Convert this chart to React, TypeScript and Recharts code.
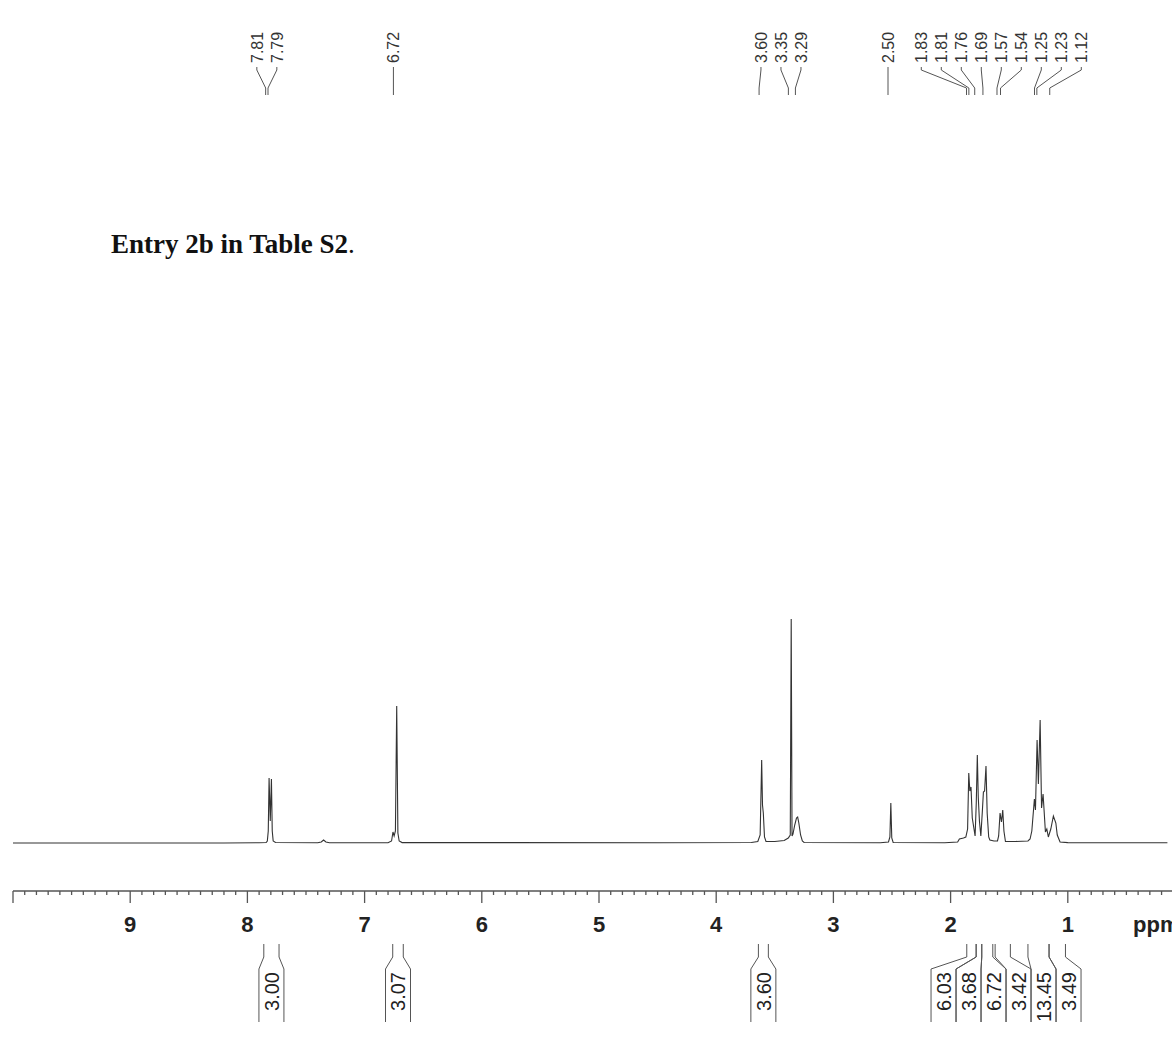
import React from 'react';
import { LineChart, Line, XAxis, YAxis, Customized } from 'recharts';

// ---------------- data (ppm, intensity) ----------------
const BASELINE_LEFT: [number, number][] = [
  [10.0, 0], [8.2, 0], [7.9, 0.3],
];
const AROMATIC_DOUBLET: [number, number][] = [
  [7.84, 0.5], [7.83, 2], [7.822, 12], [7.815, 65], [7.805, 22], [7.795, 64], [7.788, 12], [7.78, 2], [7.76, 0.5],
];
const SMALL_BUMP: [number, number][] = [
  [7.40, 0.3], [7.37, 1], [7.35, 3], [7.33, 1], [7.30, 0.3],
];
const AROMATIC_SINGLET: [number, number][] = [
  [6.80, 0.3], [6.77, 2], [6.758, 11], [6.748, 7], [6.737, 12], [6.726, 137], [6.716, 10], [6.705, 2], [6.68, 0.4],
];
const MID_REGION: [number, number][] = [
  [4.5, 0.3], [3.70, 0.5], [3.645, 1.5], [3.625, 8], [3.612, 83], [3.605, 38], [3.598, 30], [3.588, 6], [3.575, 1.5],
  [3.50, 1.5], [3.42, 2.5], [3.385, 5], [3.368, 8], [3.360, 224], [3.353, 7], [3.345, 9], [3.33, 18], [3.315, 25],
  [3.305, 26], [3.295, 20], [3.28, 8], [3.265, 2], [3.25, 0.5],
  [2.60, 0.3], [2.53, 1], [2.518, 6], [2.510, 40], [2.502, 5], [2.49, 0.5],
];
const ALIPHATIC_REGION: [number, number][] = [
  [2.05, 0.3], [1.94, 1], [1.925, 4], [1.89, 5], [1.87, 6], [1.855, 14], [1.845, 70], [1.836, 52], [1.826, 56],
  [1.815, 25], [1.791, 7], [1.781, 40], [1.772, 88], [1.764, 46], [1.754, 22], [1.742, 7], [1.730, 30], [1.720, 51],
  [1.710, 52], [1.698, 77], [1.688, 30], [1.675, 6], [1.665, 3], [1.63, 2], [1.60, 2], [1.59, 7], [1.578, 30],
  [1.566, 21], [1.555, 33], [1.545, 12], [1.532, 1.5], [1.45, 1.5], [1.34, 2], [1.322, 4], [1.307, 12], [1.285, 44],
  [1.276, 33], [1.262, 103], [1.251, 59], [1.236, 123], [1.224, 35], [1.211, 49], [1.191, 11], [1.179, 14],
  [1.166, 6], [1.145, 14], [1.123, 27], [1.102, 20], [1.09, 8], [1.066, 1], [1.0, 0.4], [0.5, 0.3], [0.15, 0.3],
];

// axis tick labels
const MAJOR_TICK_LABELS = [9, 8, 7, 6, 5, 4, 3, 2, 1];
const AXIS_UNIT = 'ppm';

// peak labels (grouped as printed)
const PEAK_LABEL_GROUPS: number[][] = [
  [7.81, 7.79],
  [6.72],
  [3.60, 3.35, 3.29],
  [2.50],
  [1.83, 1.81, 1.76, 1.69, 1.57, 1.54, 1.25, 1.23, 1.12],
];

// integrals
const INTEGRAL_RANGES: [number, number][] = [
  [7.86, 7.73], [6.76, 6.67], [3.64, 3.555],
  [1.862, 1.782], [1.782, 1.734], [1.734, 1.64], [1.62, 1.49], [1.34, 1.16], [1.16, 1.02],
];
const INTEGRAL_VALUES = ['3.00', '3.07', '3.60', '6.03', '3.68', '6.72', '3.42', '13.45', '3.49'];
const INTEGRAL_GROUPS: number[][] = [[0], [1], [2], [3, 4, 5, 6, 7, 8]];

const TITLE = 'Entry 2b in Table S2';

// ---------------- layout ----------------
const CHART_W = 1200;
const CHART_H = 1042;
const MARGIN = { top: 491, right: 15, bottom: 101, left: 13 };
const X_AXIS_H = 50;
const PPM_DOMAIN: [number, number] = [0, 10];
const INT_DOMAIN: [number, number] = [-48, 352];
const PLOT_W = CHART_W - MARGIN.left - MARGIN.right;

const SANS = "'Liberation Sans', Arial, Helvetica, sans-serif";
const SERIF = "'Liberation Serif', 'Times New Roman', serif";

const spectrum = [
  ...BASELINE_LEFT, ...AROMATIC_DOUBLET, ...SMALL_BUMP, ...AROMATIC_SINGLET, ...MID_REGION, ...ALIPHATIC_REGION,
].map(([ppm, intensity]) => ({ ppm, intensity }));

const tickValues: number[] = [];
for (let i = 0; i <= 100; i++) tickValues.push(i / 10);

const ppmToX = (p: number) =>
  MARGIN.left + ((PPM_DOMAIN[1] - p) / (PPM_DOMAIN[1] - PPM_DOMAIN[0])) * PLOT_W;

const LABEL_SHIFT = -4;
const LABEL_SPACING = 20;
const BOX_W = 25;

const AxisTick = (props: any) => {
  const { x, y, payload } = props;
  const v = Math.round(payload.value * 10) / 10;
  const isMajor = Math.abs(v - Math.round(v)) < 1e-6;
  const len = isMajor ? 12 : 4;
  const showLabel = isMajor && MAJOR_TICK_LABELS.includes(v);
  return (
    <g>
      <line x1={x} x2={x} y1={y} y2={y + len} stroke="#555" strokeWidth={1.3} />
      {showLabel && (
        <text x={x} y={y + 41} textAnchor="middle" fontFamily={SANS} fontWeight="bold" fontSize={22} fill="#222">
          {v}
        </text>
      )}
    </g>
  );
};

const Annotations = () => {
  const items: React.ReactNode[] = [];
  // title
  items.push(
    <text key="title" x={111} y={253} fontFamily={SERIF} fontSize={27} fill="#111">
      <tspan fontWeight="bold">{TITLE}</tspan>
      <tspan>.</tspan>
    </text>
  );
  // unit
  items.push(
    <text key="unit" x={1133} y={932} fontFamily={SANS} fontWeight="bold" fontSize={22} fill="#222">
      {AXIS_UNIT}
    </text>
  );
  // peak labels
  PEAK_LABEL_GROUPS.forEach((group, gi) => {
    const targets = group.map((v) => ppmToX(v) + LABEL_SHIFT);
    const mean = targets.reduce((a, b) => a + b, 0) / targets.length;
    group.forEach((v, i) => {
      const lx = mean + (i - (group.length - 1) / 2) * LABEL_SPACING;
      const tx = targets[i];
      items.push(
        <g key={`pl-${gi}-${i}`}>
          <text
            transform={`translate(${lx},63) rotate(-90)`}
            dy="0.36em"
            textAnchor="start"
            fontFamily={SANS}
            fontSize={16}
            fill="#333"
          >
            {v.toFixed(2)}
          </text>
          <polyline points={`${lx},67 ${lx},70 ${tx},88 ${tx},95`} fill="none" stroke="#555" strokeWidth={1} />
        </g>
      );
    });
  });
  // integrals
  INTEGRAL_GROUPS.forEach((group, gi) => {
    const centers = group.map((idx) => (ppmToX(INTEGRAL_RANGES[idx][0]) + ppmToX(INTEGRAL_RANGES[idx][1])) / 2);
    const mean = centers.reduce((a, b) => a + b, 0) / centers.length;
    const start = mean - (group.length * BOX_W) / 2;
    group.forEach((idx, k) => {
      const a = ppmToX(INTEGRAL_RANGES[idx][0]);
      const b = ppmToX(INTEGRAL_RANGES[idx][1]);
      const L = start + k * BOX_W;
      const R = L + BOX_W;
      const cx = (L + R) / 2;
      items.push(
        <g key={`int-${gi}-${k}`}>
          <path
            d={`M${a},944 L${a},957 L${L},969 L${L},1022 M${b},944 L${b},957 L${R},969 L${R},1022`}
            fill="none"
            stroke="#555"
            strokeWidth={1}
          />
          <text
            transform={`translate(${cx},972) rotate(-90)`}
            dy="0.36em"
            textAnchor="end"
            fontFamily={SANS}
            fontSize={20}
            fill="#222"
          >
            {INTEGRAL_VALUES[idx]}
          </text>
        </g>
      );
    });
  });
  return <g>{items}</g>;
};

export default function App() {
  return (
    <div
      style={{
        position: 'absolute',
        left: 0,
        top: 0,
        width: 1172,
        height: 1042,
        overflow: 'hidden',
        background: '#fff',
      }}
    >
      <LineChart width={CHART_W} height={CHART_H} data={spectrum} margin={MARGIN}>
        <XAxis
          dataKey="ppm"
          type="number"
          domain={PPM_DOMAIN}
          allowDataOverflow
          reversed
          ticks={tickValues}
          interval={0}
          tickSize={0}
          tickMargin={0}
          tickLine={false}
          height={X_AXIS_H}
          axisLine={{ stroke: '#555', strokeWidth: 1.3 }}
          tick={<AxisTick />}
        />
        <YAxis hide type="number" domain={INT_DOMAIN} allowDataOverflow />
        <Line
          type="linear"
          dataKey="intensity"
          stroke="#333"
          strokeWidth={1.1}
          dot={false}
          isAnimationActive={false}
        />
        <Customized component={Annotations} />
      </LineChart>
    </div>
  );
}
